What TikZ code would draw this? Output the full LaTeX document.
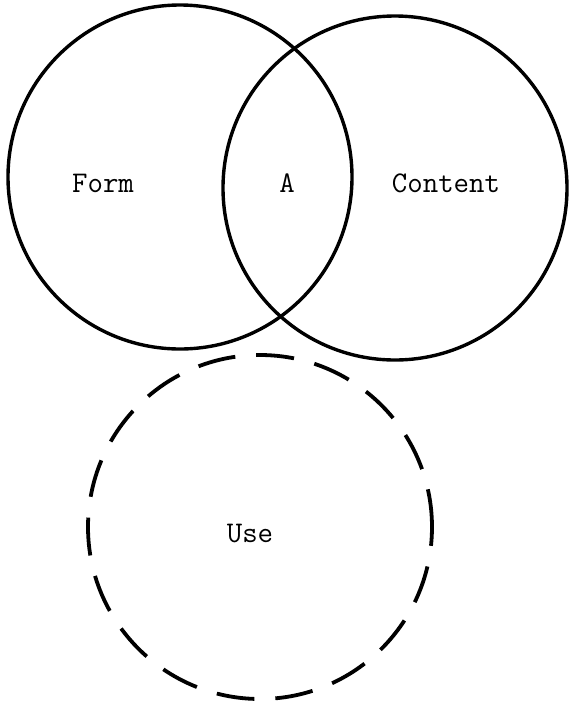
\documentclass[tikz,border=0pt]{standalone}
\usepackage{fontspec}
\begin{document}
\begin{tikzpicture}[x=1pt,y=-1pt,
  ring/.style={circle,draw=black,line width=3.4pt,minimum size=344pt,inner sep=0pt},
  dashring/.style={ring,line width=3.8pt,dash pattern=on 38pt off 21pt},
  label/.style={font=\ttfamily\fontsize{30}{34}\selectfont,inner sep=0pt}]
  \useasboundingbox (0,0) rectangle (571,710);
  % three overlapping sets
  \node[ring] (form) at (180,177) {};
  \node[ring] (content) at (395,188) {};
  \node[dashring] (use) at (260,527) {};
  % set labels
  \node[label] (formtext) at (103,183) {Form};
  \node[label] (atext) at (287,183) {A};
  \node[label] (contenttext) at (446,183) {Content};
  \node[label] (usetext) at (250,534) {Use};
\end{tikzpicture}
\end{document}
